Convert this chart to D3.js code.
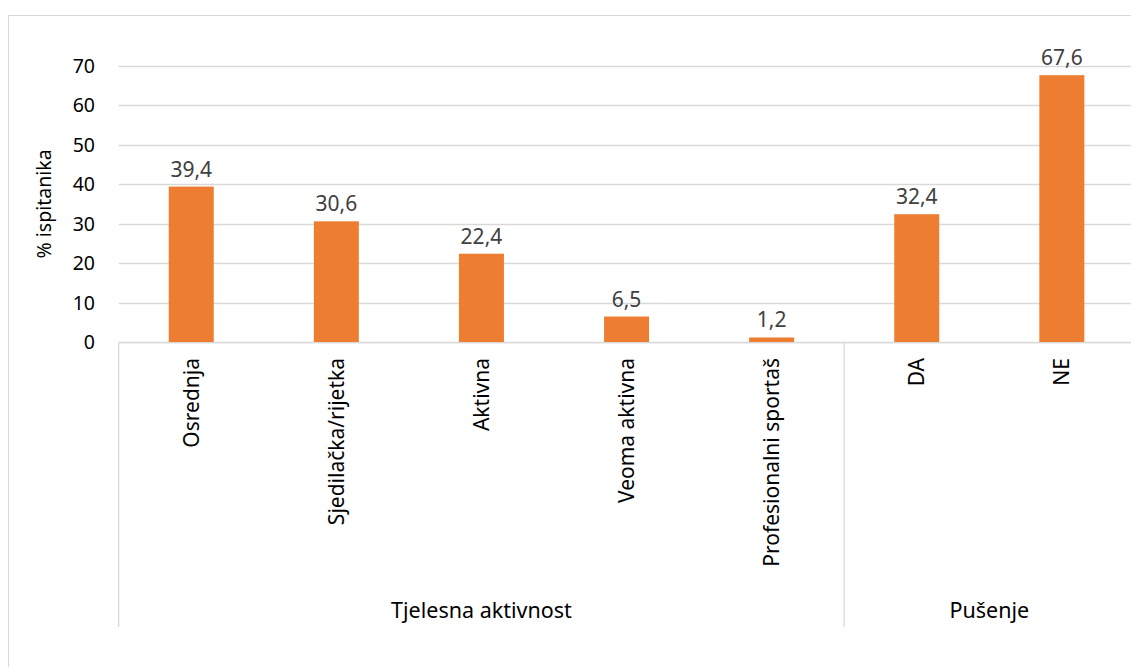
<!DOCTYPE html>
<html>
<head>
<meta charset="utf-8">
<script src="https://cdn.jsdelivr.net/npm/d3@7"></script>
<style>
  body { margin: 0; background: #fff; }
  svg { display: block; font-family: "Noto Sans", sans-serif; }
</style>
</head>
<body>
<div id="main"></div>
<script>
// chart data
const categories = ['Osrednja', 'Sjedilačka/rijetka', 'Aktivna', 'Veoma aktivna', 'Profesionalni sportaš', 'DA', 'NE'];
const values = [39.4, 30.6, 22.4, 6.5, 1.2, 32.4, 67.6];
const groupNames = ['Tjelesna aktivnost', 'Pušenje'];
const groupSizes = [5, 2];
const yTicks = [0, 10, 20, 30, 40, 50, 60, 70];
const yTitle = '% ispitanika';

function draw() {
  let width = 1131;
  let height = 667;
  let left = 118.7, right = 1134.4, top = 65.7, bottom = 342.2, axisBottom = 627;

  let svg = d3.select('#main').append('svg').attr('width', width).attr('height', height);

  // outer chart border
  svg.append('rect').attr('x', 8.5).attr('y', 15.5).attr('width', 1130).attr('height', 700)
    .attr('fill', 'none').attr('stroke', '#d9d9d9');

  let x = d3.scaleBand().domain(categories).range([left, right]).paddingInner(0.69).paddingOuter(0.345);
  let y = d3.scaleLinear().domain([0, 70]).range([bottom, top]);

  // gridlines
  svg.append('g').selectAll('line').data(yTicks).join('line')
    .attr('x1', left).attr('x2', right)
    .attr('y1', d => Math.round(y(d)) + 0.5).attr('y2', d => Math.round(y(d)) + 0.5)
    .attr('stroke', '#d9d9d9').attr('stroke-width', 1.3);

  // y tick labels
  svg.append('g').selectAll('text').data(yTicks).join('text')
    .attr('x', 95).attr('y', d => y(d) + 7)
    .attr('text-anchor', 'end').attr('font-size', 19.5).attr('fill', '#000')
    .text(d => d);

  // y title
  svg.append('text')
    .attr('transform', 'translate(51,' + ((top + bottom) / 2) + ') rotate(-90)')
    .attr('text-anchor', 'middle').attr('font-size', 19.5).attr('fill', '#000')
    .text(yTitle);

  // bars
  svg.append('g').selectAll('rect').data(values).join('rect')
    .attr('x', (d, i) => x(categories[i])).attr('width', x.bandwidth())
    .attr('y', d => y(d)).attr('height', d => y(0) - y(d))
    .attr('fill', '#ed7d31');

  // data labels
  svg.append('g').selectAll('text').data(values).join('text')
    .attr('x', (d, i) => x(categories[i]) + x.bandwidth() / 2)
    .attr('y', d => y(d) - 10)
    .attr('text-anchor', 'middle').attr('font-size', 21).attr('fill', '#404040')
    .text(d => String(d).replace('.', ','));

  // category labels
  svg.append('g').selectAll('text').data(categories).join('text')
    .attr('transform', d => 'translate(' + (x(d) + x.bandwidth() / 2 + 7.5) + ',358) rotate(-90)')
    .attr('text-anchor', 'end').attr('font-size', 21).attr('fill', '#000')
    .text(d => d);

  // axis line and group separators
  let step = x.step();
  svg.append('line').attr('x1', left).attr('x2', right).attr('y1', bottom + 0.5).attr('y2', bottom + 0.5)
    .attr('stroke', '#d9d9d9').attr('stroke-width', 1.3);
  let edges = [0];
  groupSizes.forEach(n => edges.push(edges[edges.length - 1] + n));
  svg.append('g').selectAll('line').data(edges).join('line')
    .attr('x1', d => left + d * step).attr('x2', d => left + d * step)
    .attr('y1', bottom).attr('y2', axisBottom)
    .attr('stroke', '#d9d9d9').attr('stroke-width', 1.3);

  // group labels
  svg.append('g').selectAll('text').data(groupNames).join('text')
    .attr('x', (d, i) => left + (edges[i] + edges[i + 1]) / 2 * step)
    .attr('y', 618)
    .attr('text-anchor', 'middle').attr('font-size', 21.5).attr('fill', '#000')
    .text(d => d);
}
draw();
</script>
</body>
</html>
